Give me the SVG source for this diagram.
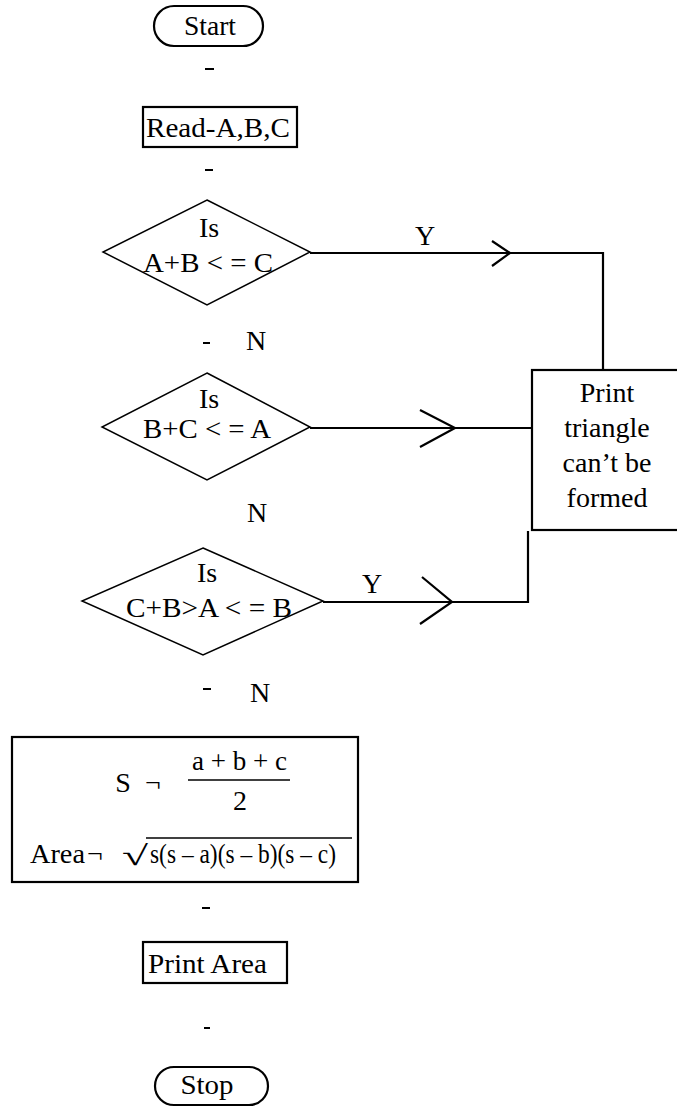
<svg xmlns="http://www.w3.org/2000/svg" width="677" height="1107" viewBox="0 0 677 1107">
<style>
text{font-family:"Liberation Serif","Times New Roman",serif;font-size:28px;fill:#000}
.c{text-anchor:middle}
.box{fill:#fff;stroke:#000;stroke-width:2.2}
.dia{fill:#fff;stroke:#000;stroke-width:1.5}
.ln{fill:none;stroke:#000;stroke-width:2.2}
.dash{stroke:#000;stroke-width:2}
</style>
<rect width="677" height="1107" fill="#fff"/>
<g id="connectors">
<path class="ln" d="M310,253 H603 V370"/>
<path class="ln" d="M492,241 L510,253 L492,266"/>
<path class="ln" d="M310,428 H532"/>
<path class="ln" d="M420,410 L455,428 L420,447"/>
<path class="ln" d="M323,602 H528 V531"/>
<path class="ln" d="M422,577 L452,602 L420,624"/>
<line class="dash" x1="205" y1="69" x2="214" y2="69"/>
<line class="dash" x1="205" y1="170" x2="213" y2="170"/>
<line class="dash" x1="203" y1="343" x2="210" y2="343"/>
<line class="dash" x1="203" y1="689" x2="211" y2="689"/>
<line class="dash" x1="202" y1="908" x2="210" y2="908"/>
<line class="dash" x1="204" y1="1028" x2="210" y2="1028"/>
<text x="425" y="245" class="c">Y</text>
<text x="372" y="593" class="c">Y</text>
<text x="256" y="350" class="c">N</text>
<text x="257" y="522" class="c">N</text>
<text x="260" y="702" class="c">N</text>
</g>
<g id="start">
<rect class="box" x="154" y="6" width="109" height="40" rx="20" ry="20"/>
<text x="210" y="35" class="c" textLength="52" lengthAdjust="spacingAndGlyphs">Start</text>
</g>
<g id="read">
<rect class="box" x="143" y="107" width="154" height="40"/>
<text x="146" y="137" textLength="144" lengthAdjust="spacingAndGlyphs">Read-A,B,C</text>
</g>
<g id="decision1">
<polygon class="dia" points="207,200 310,252 207,305 103,252"/>
<text x="209" y="237" class="c">Is</text>
<text x="208" y="272" class="c" textLength="130" lengthAdjust="spacingAndGlyphs">A+B &lt; = C</text>
</g>
<g id="decision2">
<polygon class="dia" points="207,373 310,427 207,480 102,427"/>
<text x="209" y="408" class="c">Is</text>
<text x="207" y="438" class="c" textLength="128" lengthAdjust="spacingAndGlyphs">B+C &lt; = A</text>
</g>
<g id="decision3">
<polygon class="dia" points="203,548 323,601 203,655 82,601"/>
<text x="207" y="582" class="c">Is</text>
<text x="209" y="617" class="c" textLength="166" lengthAdjust="spacingAndGlyphs">C+B&gt;A &lt; = B</text>
</g>
<g id="print-error">
<rect class="box" x="532" y="370" width="150" height="160"/>
<text x="607" y="402" class="c">Print</text>
<text x="607" y="437" class="c">triangle</text>
<text x="607" y="472" class="c">can’t be</text>
<text x="607" y="507" class="c">formed</text>
</g>
<g id="compute">
<rect class="box" x="12" y="737" width="346" height="145"/>
<text x="123" y="792" class="c">S</text>
<text x="153" y="792" class="c">¬</text>
<text x="192" y="770" textLength="95" lengthAdjust="spacingAndGlyphs">a + b + c</text>
<line x1="188" y1="780" x2="290" y2="780" stroke="#000" stroke-width="1.5"/>
<text x="240" y="810" class="c">2</text>
<text x="30" y="863" textLength="55" lengthAdjust="spacingAndGlyphs">Area</text>
<text x="95" y="863" class="c">¬</text>
<text x="122" y="865" textLength="26" lengthAdjust="spacingAndGlyphs">√</text>
<line x1="146" y1="838" x2="352" y2="838" stroke="#000" stroke-width="1.5"/>
<text x="150" y="863" textLength="186" lengthAdjust="spacingAndGlyphs">s(s – a)(s – b)(s – c)</text>
</g>
<g id="print-area">
<rect class="box" x="143" y="942" width="144" height="41"/>
<text x="148" y="973" textLength="119" lengthAdjust="spacingAndGlyphs">Print Area</text>
</g>
<g id="stop">
<rect class="box" x="155" y="1067" width="113" height="38" rx="19" ry="19"/>
<text x="207" y="1094" class="c" textLength="53" lengthAdjust="spacingAndGlyphs">Stop</text>
</g>
</svg>
